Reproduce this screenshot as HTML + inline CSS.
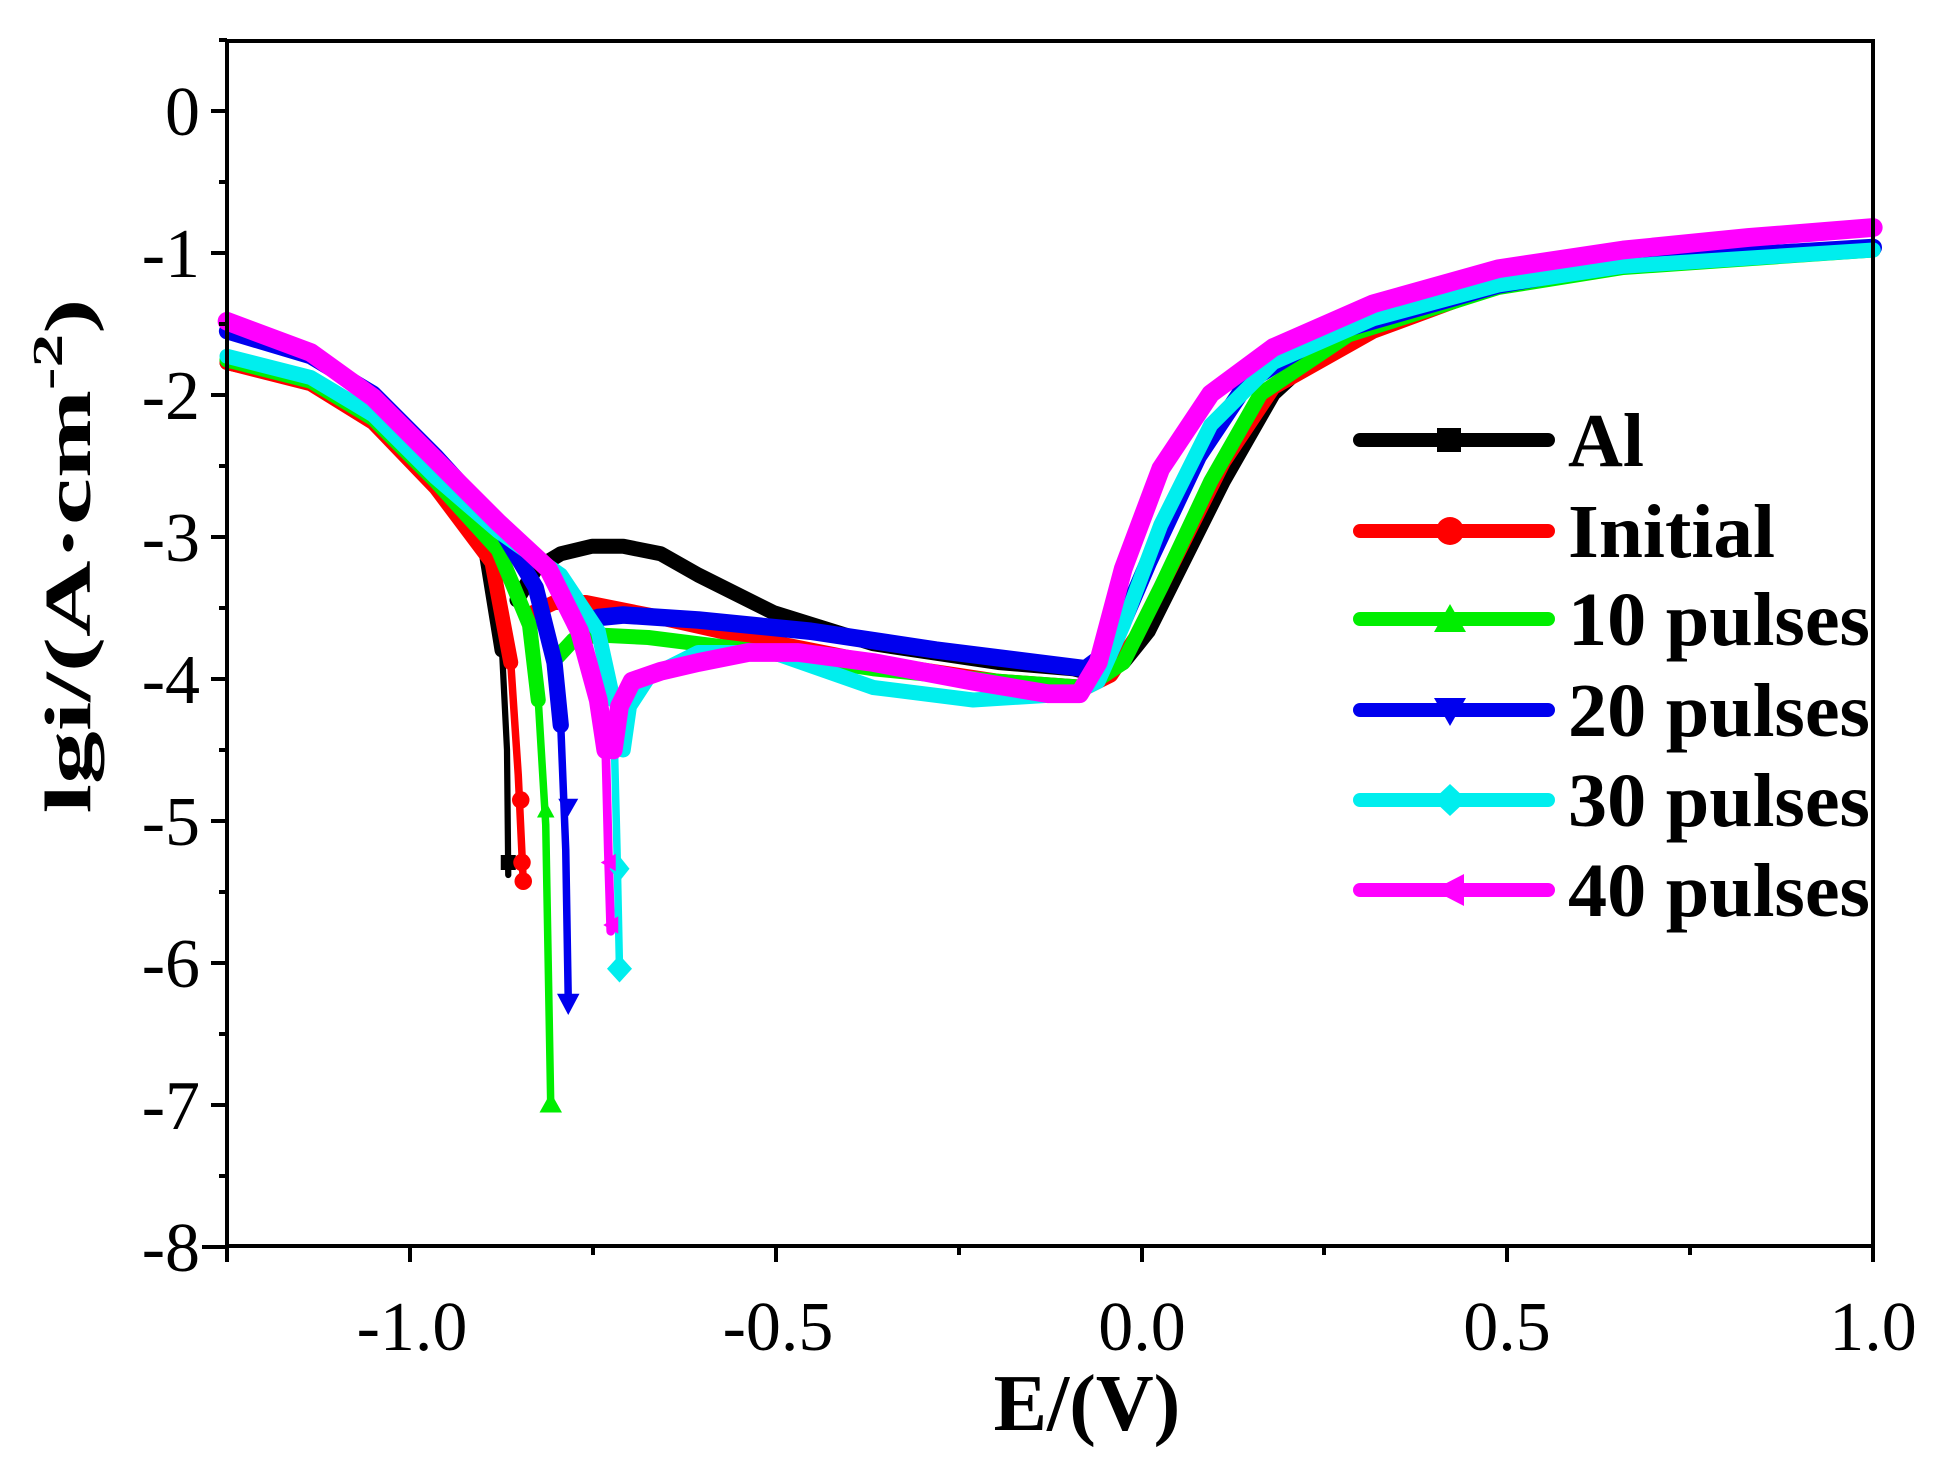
<!DOCTYPE html>
<html><head><meta charset="utf-8"><style>
html,body{margin:0;padding:0;background:#fff;}
svg{display:block;}
text{font-family:"Liberation Serif",serif;fill:#000;}
</style></head><body>
<svg width="1956" height="1458" viewBox="0 0 1956 1458" xmlns="http://www.w3.org/2000/svg">
<rect width="1956" height="1458" fill="#fff"/>
<g transform="translate(-1.75,0) scale(1.25)" fill="none" stroke-linejoin="round" stroke-linecap="round">
<g stroke="#000">
<polyline stroke-width="12" points="183,290 250,305 300,335 350,385 390,440 403,520"/>
<polyline stroke-width="5" points="403,520 407,600 408,700"/>
<polyline stroke-width="12" points="415,480 430,455 450,443 475,437 500,437 530,443 560,460 620,490 700,515 800,530 860,535 880,540 900,530 920,505 950,445 980,385 1020,315 1060,278 1120,252 1200,228 1300,212 1400,203 1500,198"/>
</g>
<g stroke="#ff0000">
<polyline stroke-width="12" points="183,290 250,307 300,338 350,390 395,450 410,530"/>
<polyline stroke-width="6" points="410,530 416,620 420,705"/>
<polyline stroke-width="12" points="428,490 445,482 470,482 520,492 600,510 700,530 800,545 870,550 890,540 910,510 940,450 980,370 1020,310 1100,265 1200,228 1300,212 1500,198"/>
</g>
<g stroke="#00ee00">
<polyline stroke-width="12" points="183,288 250,305 300,335 350,385 400,440 425,500 432,560"/>
<polyline stroke-width="6" points="432,560 438,660 442,885"/>
<polyline stroke-width="12" points="448,525 460,512 480,508 520,510 600,520 700,535 800,545 870,550 900,530 930,470 970,385 1010,315 1080,268 1200,230 1300,214 1500,200"/>
</g>
<g stroke="#0000ee">
<polyline stroke-width="13" points="183,265 250,285 300,315 350,365 400,420 430,470 445,530 450,580"/>
<polyline stroke-width="6" points="450,580 454,680 456,800"/>
<polyline stroke-width="14" points="462,500 480,494 500,492 560,496 650,505 750,520 830,530 870,535 890,520 920,450 960,365 1000,305 1060,268 1200,228 1300,210 1500,198"/>
</g>
<g stroke="#00eeee">
<polyline stroke-width="12" points="183,285 250,302 300,332 350,382 400,425 450,460 480,505 492,560"/>
<polyline stroke-width="6" points="492,560 495,680 497,775"/>
<polyline stroke-width="12" points="500,600 505,565 520,542 560,522 620,522 700,550 780,560 860,555 880,545 900,500 930,420 970,340 1020,290 1100,255 1200,228 1300,213 1500,200"/>
</g>
<g stroke="#ff00ff">
<polyline stroke-width="15" points="183,257 250,282 300,318 350,368 400,418 440,455 465,505 480,560 486,600"/>
<polyline stroke-width="7" points="486,600 488,680 490,745"/>
<polyline stroke-width="15" points="492,600 497,565 507,545 530,537 560,530 600,522 640,522 700,530 780,545 840,555 865,555 880,530 900,455 930,375 970,315 1020,278 1100,243 1200,215 1300,200 1400,190 1500,182"/>
</g>
<g stroke="none">
<rect x="402" y="684" width="12" height="12" fill="#000"/>
<circle cx="418" cy="640" r="7" fill="#ff0000"/><circle cx="419" cy="690" r="7" fill="#ff0000"/><circle cx="420" cy="705" r="7" fill="#ff0000"/>
<polygon points="438,641 431,654 445,654" fill="#00ee00"/><polygon points="442,874 433,890 451,890" fill="#00ee00"/>
<polygon points="448,639 464,639 456,653" fill="#0000ee"/><polygon points="447,795 465,795 456,812" fill="#0000ee"/>
<polygon points="497,685 505,695 497,705 489,695" fill="#00eeee"/><polygon points="497,764 507,775 497,786 487,775" fill="#00eeee"/>
<polygon points="482,690 494,683 494,697" fill="#ff00ff"/><polygon points="484,740 496,733 496,747" fill="#ff00ff"/>
</g>
</g>
<rect x="227" y="41" width="1646" height="1205" fill="none" stroke="#000" stroke-width="4"/>
<g stroke="#000" stroke-width="4">
<line x1="410" y1="1246" x2="410" y2="1262"/><line x1="776" y1="1246" x2="776" y2="1262"/><line x1="1142" y1="1246" x2="1142" y2="1262"/><line x1="1507" y1="1246" x2="1507" y2="1262"/><line x1="1873" y1="1246" x2="1873" y2="1262"/><line x1="227" y1="1246" x2="227" y2="1262"/>
<line x1="593" y1="1246" x2="593" y2="1255"/><line x1="959" y1="1246" x2="959" y2="1255"/><line x1="1324" y1="1246" x2="1324" y2="1255"/><line x1="1690" y1="1246" x2="1690" y2="1255"/>
<line x1="211" y1="111" x2="227" y2="111"/><line x1="211" y1="253" x2="227" y2="253"/><line x1="211" y1="395" x2="227" y2="395"/><line x1="211" y1="537" x2="227" y2="537"/><line x1="211" y1="679" x2="227" y2="679"/><line x1="211" y1="821" x2="227" y2="821"/><line x1="211" y1="963" x2="227" y2="963"/><line x1="211" y1="1105" x2="227" y2="1105"/><line x1="202" y1="1247" x2="227" y2="1247"/>
<line x1="219" y1="40" x2="227" y2="40"/><line x1="219" y1="182" x2="227" y2="182"/><line x1="219" y1="324" x2="227" y2="324"/><line x1="219" y1="466" x2="227" y2="466"/><line x1="219" y1="608" x2="227" y2="608"/><line x1="219" y1="750" x2="227" y2="750"/><line x1="219" y1="892" x2="227" y2="892"/><line x1="219" y1="1034" x2="227" y2="1034"/><line x1="219" y1="1176" x2="227" y2="1176"/>
</g>
<g font-size="70" text-anchor="end">
<text x="200" y="135">0</text><text x="200" y="277">-1</text><text x="200" y="419">-2</text><text x="200" y="561">-3</text><text x="200" y="703">-4</text><text x="200" y="845">-5</text><text x="200" y="987">-6</text><text x="200" y="1129">-7</text><text x="200" y="1271">-8</text>
</g>
<g font-size="70" text-anchor="middle">
<text x="412" y="1350">-1.0</text><text x="778" y="1350">-0.5</text><text x="1142" y="1350">0.0</text><text x="1507" y="1350">0.5</text><text x="1873" y="1350">1.0</text>
</g>
<text x="1087" y="1430" font-size="80" font-weight="bold" text-anchor="middle">E/(V)</text>
<text transform="translate(90,556) rotate(-90)" font-size="66" font-weight="bold" text-anchor="middle" textLength="515" lengthAdjust="spacingAndGlyphs">lgi/(A·cm<tspan dy="-28" font-size="42">-2</tspan><tspan dy="28">)</tspan></text>
<g stroke-width="14" stroke-linecap="round">
<line x1="1360" y1="440" x2="1548" y2="440" stroke="#000"/>
<line x1="1360" y1="531" x2="1548" y2="531" stroke="#ff0000"/>
<line x1="1360" y1="619" x2="1548" y2="619" stroke="#00ee00"/>
<line x1="1360" y1="710" x2="1548" y2="710" stroke="#0000ee"/>
<line x1="1360" y1="800" x2="1548" y2="800" stroke="#00eeee"/>
<line x1="1360" y1="890" x2="1548" y2="890" stroke="#ff00ff"/>
</g>
<rect x="1437" y="428" width="24" height="24" fill="#000"/>
<circle cx="1450" cy="531" r="14" fill="#ff0000"/>
<polygon points="1450,604 1434,632 1466,632" fill="#00ee00"/>
<polygon points="1434,698 1466,698 1450,726" fill="#0000ee"/>
<polygon points="1450,784 1467,800 1450,816 1433,800" fill="#00eeee"/>
<polygon points="1433,890 1464,874 1464,906" fill="#ff00ff"/>
<g font-size="76" font-weight="bold">
<text x="1568" y="466">Al</text>
<text x="1568" y="557" textLength="207" lengthAdjust="spacingAndGlyphs">Initial</text>
<text x="1568" y="645" textLength="302" lengthAdjust="spacingAndGlyphs">10 pulses</text>
<text x="1568" y="736" textLength="302" lengthAdjust="spacingAndGlyphs">20 pulses</text>
<text x="1568" y="826" textLength="302" lengthAdjust="spacingAndGlyphs">30 pulses</text>
<text x="1568" y="916" textLength="302" lengthAdjust="spacingAndGlyphs">40 pulses</text>
</g>
</svg>
</body></html>
